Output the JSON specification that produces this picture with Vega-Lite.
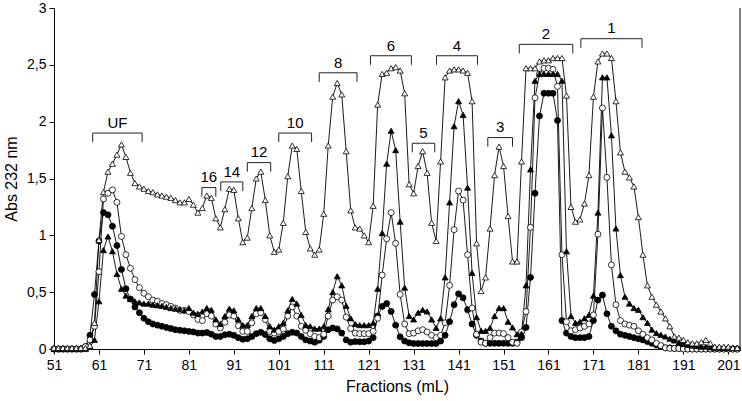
{
"$schema":"https://vega.github.io/schema/vega-lite/v6.json",
"width":686,"height":341,
"autosize":{"type":"none"},
"padding":{"left":54,"top":8,"right":2,"bottom":52},
"config":{"view":{"stroke":null},"font":"Liberation Sans",
"axis":{"domainColor":"black","tickColor":"black","labelColor":"black","titleColor":"black","grid":false,"labelFont":"Liberation Sans","titleFont":"Liberation Sans","titleFontWeight":"normal","tickSize":5,"domainWidth":1,"tickWidth":1,"labelFontSize":14,"titleFontSize":16}},
"datasets":{
"series":[
{"x":51,"OT":0.01,"FT":0,"OC":0,"FC":0},
{"x":52,"OT":0.01,"FT":0,"OC":0,"FC":0},
{"x":53,"OT":0.01,"FT":0,"OC":0,"FC":0},
{"x":54,"OT":0.01,"FT":0,"OC":0,"FC":0},
{"x":55,"OT":0.01,"FT":0,"OC":0,"FC":0},
{"x":56,"OT":0.01,"FT":0,"OC":0,"FC":0},
{"x":57,"OT":0.01,"FT":0,"OC":0,"FC":0},
{"x":58,"OT":0.01,"FT":0,"OC":0.02,"FC":0.02},
{"x":59,"OT":0.03,"FT":0.02,"OC":0.08,"FC":0.12},
{"x":60,"OT":0.23,"FT":0.08,"OC":0.2,"FC":0.48},
{"x":61,"OT":0.96,"FT":0.42,"OC":0.68,"FC":0.95},
{"x":62,"OT":1.38,"FT":0.87,"OC":1.32,"FC":1.2},
{"x":63,"OT":1.56,"FT":0.99,"OC":1.37,"FC":1.18},
{"x":64,"OT":1.63,"FT":0.86,"OC":1.4,"FC":1.08},
{"x":65,"OT":1.71,"FT":0.66,"OC":1.29,"FC":0.91},
{"x":66,"OT":1.8,"FT":0.53,"OC":0.99,"FC":0.7},
{"x":67,"OT":1.69,"FT":0.47,"OC":0.83,"FC":0.53},
{"x":68,"OT":1.55,"FT":0.44,"OC":0.71,"FC":0.44},
{"x":69,"OT":1.46,"FT":0.42,"OC":0.61,"FC":0.37},
{"x":70,"OT":1.43,"FT":0.41,"OC":0.54,"FC":0.32},
{"x":71,"OT":1.41,"FT":0.4,"OC":0.49,"FC":0.27},
{"x":72,"OT":1.39,"FT":0.4,"OC":0.46,"FC":0.24},
{"x":73,"OT":1.38,"FT":0.39,"OC":0.43,"FC":0.22},
{"x":74,"OT":1.36,"FT":0.385,"OC":0.42,"FC":0.21},
{"x":75,"OT":1.35,"FT":0.38,"OC":0.4,"FC":0.2},
{"x":76,"OT":1.34,"FT":0.37,"OC":0.39,"FC":0.19},
{"x":77,"OT":1.33,"FT":0.36,"OC":0.375,"FC":0.18},
{"x":78,"OT":1.31,"FT":0.355,"OC":0.36,"FC":0.17},
{"x":79,"OT":1.29,"FT":0.35,"OC":0.34,"FC":0.165},
{"x":80,"OT":1.29,"FT":0.34,"OC":0.34,"FC":0.16},
{"x":81,"OT":1.32,"FT":0.36,"OC":0.33,"FC":0.155},
{"x":82,"OT":1.27,"FT":0.32,"OC":0.3,"FC":0.15},
{"x":83,"OT":1.2,"FT":0.31,"OC":0.26,"FC":0.14},
{"x":84,"OT":1.24,"FT":0.33,"OC":0.25,"FC":0.14},
{"x":85,"OT":1.35,"FT":0.36,"OC":0.31,"FC":0.145},
{"x":86,"OT":1.33,"FT":0.345,"OC":0.29,"FC":0.13},
{"x":87,"OT":1.15,"FT":0.26,"OC":0.22,"FC":0.11},
{"x":88,"OT":1.07,"FT":0.22,"OC":0.185,"FC":0.11},
{"x":89,"OT":1.23,"FT":0.29,"OC":0.235,"FC":0.125},
{"x":90,"OT":1.41,"FT":0.355,"OC":0.3,"FC":0.13},
{"x":91,"OT":1.4,"FT":0.34,"OC":0.29,"FC":0.12},
{"x":92,"OT":1.15,"FT":0.26,"OC":0.205,"FC":0.1},
{"x":93,"OT":0.94,"FT":0.21,"OC":0.155,"FC":0.085},
{"x":94,"OT":0.98,"FT":0.21,"OC":0.155,"FC":0.09},
{"x":95,"OT":1.24,"FT":0.29,"OC":0.23,"FC":0.11},
{"x":96,"OT":1.5,"FT":0.36,"OC":0.31,"FC":0.135},
{"x":97,"OT":1.56,"FT":0.36,"OC":0.32,"FC":0.147},
{"x":98,"OT":1.31,"FT":0.29,"OC":0.26,"FC":0.127},
{"x":99,"OT":1.0,"FT":0.2,"OC":0.155,"FC":0.09},
{"x":100,"OT":0.855,"FT":0.17,"OC":0.14,"FC":0.075},
{"x":101,"OT":0.875,"FT":0.2,"OC":0.155,"FC":0.09},
{"x":102,"OT":1.11,"FT":0.23,"OC":0.175,"FC":0.11},
{"x":103,"OT":1.52,"FT":0.34,"OC":0.29,"FC":0.135},
{"x":104,"OT":1.79,"FT":0.44,"OC":0.37,"FC":0.147},
{"x":105,"OT":1.76,"FT":0.4,"OC":0.29,"FC":0.14},
{"x":106,"OT":1.39,"FT":0.3,"OC":0.2,"FC":0.11},
{"x":107,"OT":1.03,"FT":0.21,"OC":0.165,"FC":0.08},
{"x":108,"OT":0.885,"FT":0.2,"OC":0.135,"FC":0.07},
{"x":109,"OT":0.83,"FT":0.18,"OC":0.11,"FC":0.06},
{"x":110,"OT":0.875,"FT":0.18,"OC":0.1,"FC":0.077},
{"x":111,"OT":1.19,"FT":0.2,"OC":0.13,"FC":0.11},
{"x":112,"OT":1.79,"FT":0.35,"OC":0.29,"FC":0.17},
{"x":113,"OT":2.22,"FT":0.5,"OC":0.43,"FC":0.185},
{"x":114,"OT":2.34,"FT":0.64,"OC":0.46,"FC":0.177},
{"x":115,"OT":2.24,"FT":0.56,"OC":0.43,"FC":0.14},
{"x":116,"OT":1.74,"FT":0.38,"OC":0.28,"FC":0.08},
{"x":117,"OT":1.22,"FT":0.27,"OC":0.18,"FC":0.06},
{"x":118,"OT":1.07,"FT":0.22,"OC":0.14,"FC":0.065},
{"x":119,"OT":1.06,"FT":0.21,"OC":0.135,"FC":0.063},
{"x":120,"OT":1.0,"FT":0.21,"OC":0.135,"FC":0.063},
{"x":121,"OT":0.94,"FT":0.21,"OC":0.135,"FC":0.07},
{"x":122,"OT":1.26,"FT":0.23,"OC":0.155,"FC":0.1},
{"x":123,"OT":2.15,"FT":0.53,"OC":0.27,"FC":0.29},
{"x":124,"OT":2.42,"FT":1.02,"OC":0.65,"FC":0.375},
{"x":125,"OT":2.43,"FT":1.63,"OC":0.97,"FC":0.4},
{"x":126,"OT":2.47,"FT":1.92,"OC":1.2,"FC":0.33},
{"x":127,"OT":2.48,"FT":1.75,"OC":0.93,"FC":0.21},
{"x":128,"OT":2.45,"FT":1.12,"OC":0.48,"FC":0.107},
{"x":129,"OT":2.25,"FT":0.54,"OC":0.22,"FC":0.07},
{"x":130,"OT":1.45,"FT":0.29,"OC":0.135,"FC":0.054},
{"x":131,"OT":1.37,"FT":0.26,"OC":0.14,"FC":0.048},
{"x":132,"OT":1.61,"FT":0.32,"OC":0.16,"FC":0.048},
{"x":133,"OT":1.74,"FT":0.345,"OC":0.17,"FC":0.048},
{"x":134,"OT":1.55,"FT":0.33,"OC":0.15,"FC":0.048},
{"x":135,"OT":1.11,"FT":0.26,"OC":0.12,"FC":0.048},
{"x":136,"OT":0.95,"FT":0.185,"OC":0.1,"FC":0.048},
{"x":137,"OT":1.65,"FT":0.27,"OC":0.12,"FC":0.07},
{"x":138,"OT":2.39,"FT":0.63,"OC":0.23,"FC":0.12},
{"x":139,"OT":2.45,"FT":1.29,"OC":0.56,"FC":0.24},
{"x":140,"OT":2.46,"FT":1.96,"OC":1.05,"FC":0.39},
{"x":141,"OT":2.46,"FT":2.18,"OC":1.39,"FC":0.485},
{"x":142,"OT":2.45,"FT":2.06,"OC":1.31,"FC":0.45},
{"x":143,"OT":2.43,"FT":1.42,"OC":0.83,"FC":0.345},
{"x":144,"OT":2.18,"FT":0.67,"OC":0.36,"FC":0.22},
{"x":145,"OT":0.93,"FT":0.28,"OC":0.13,"FC":0.12},
{"x":146,"OT":0.51,"FT":0.16,"OC":0.06,"FC":0.07},
{"x":147,"OT":0.63,"FT":0.16,"OC":0.05,"FC":0.05},
{"x":148,"OT":1.06,"FT":0.185,"OC":0.1,"FC":0.05},
{"x":149,"OT":1.53,"FT":0.29,"OC":0.14,"FC":0.05},
{"x":150,"OT":1.78,"FT":0.36,"OC":0.14,"FC":0.05},
{"x":151,"OT":1.61,"FT":0.36,"OC":0.135,"FC":0.05},
{"x":152,"OT":1.17,"FT":0.24,"OC":0.1,"FC":0.05},
{"x":153,"OT":0.77,"FT":0.19,"OC":0.06,"FC":0.05},
{"x":154,"OT":0.77,"FT":0.13,"OC":0.05,"FC":0.06},
{"x":155,"OT":1.65,"FT":0.135,"OC":0.15,"FC":0.1},
{"x":156,"OT":2.47,"FT":0.56,"OC":0.33,"FC":0.19},
{"x":157,"OT":2.47,"FT":1.58,"OC":1.07,"FC":0.63},
{"x":158,"OT":2.47,"FT":2.36,"OC":2.21,"FC":1.37},
{"x":159,"OT":2.53,"FT":2.42,"OC":2.42,"FC":2.05},
{"x":160,"OT":2.54,"FT":2.42,"OC":2.47,"FC":2.25},
{"x":161,"OT":2.54,"FT":2.42,"OC":2.47,"FC":2.25},
{"x":162,"OT":2.56,"FT":2.42,"OC":2.46,"FC":2.25},
{"x":163,"OT":2.56,"FT":2.42,"OC":2.31,"FC":2.01},
{"x":164,"OT":2.56,"FT":2.36,"OC":0.83,"FC":0.25},
{"x":165,"OT":2.23,"FT":0.86,"OC":0.24,"FC":0.14},
{"x":166,"OT":1.25,"FT":0.29,"OC":0.16,"FC":0.11},
{"x":167,"OT":1.12,"FT":0.23,"OC":0.17,"FC":0.1},
{"x":168,"OT":1.14,"FT":0.24,"OC":0.185,"FC":0.1},
{"x":169,"OT":1.28,"FT":0.27,"OC":0.2,"FC":0.1},
{"x":170,"OT":1.53,"FT":0.3,"OC":0.22,"FC":0.11},
{"x":171,"OT":2.22,"FT":0.47,"OC":0.3,"FC":0.25},
{"x":172,"OT":2.53,"FT":1.2,"OC":1.01,"FC":0.43},
{"x":173,"OT":2.6,"FT":2.39,"OC":2.12,"FC":0.475},
{"x":174,"OT":2.6,"FT":2.39,"OC":1.51,"FC":0.31},
{"x":175,"OT":2.56,"FT":1.88,"OC":0.74,"FC":0.2},
{"x":176,"OT":2.18,"FT":1.06,"OC":0.39,"FC":0.16},
{"x":177,"OT":1.73,"FT":0.65,"OC":0.25,"FC":0.13},
{"x":178,"OT":1.56,"FT":0.46,"OC":0.22,"FC":0.12},
{"x":179,"OT":1.51,"FT":0.4,"OC":0.21,"FC":0.11},
{"x":180,"OT":1.43,"FT":0.36,"OC":0.2,"FC":0.1},
{"x":181,"OT":1.16,"FT":0.345,"OC":0.16,"FC":0.09},
{"x":182,"OT":0.83,"FT":0.28,"OC":0.13,"FC":0.08},
{"x":183,"OT":0.56,"FT":0.23,"OC":0.1,"FC":0.065},
{"x":184,"OT":0.46,"FT":0.17,"OC":0.08,"FC":0.05},
{"x":185,"OT":0.39,"FT":0.14,"OC":0.05,"FC":0.035},
{"x":186,"OT":0.33,"FT":0.125,"OC":0.03,"FC":0.02},
{"x":187,"OT":0.27,"FT":0.11,"OC":0.01,"FC":0.01},
{"x":188,"OT":0.2,"FT":0.09,"OC":0.005,"FC":0.01},
{"x":189,"OT":0.11,"FT":0.075,"OC":0.005,"FC":0.005},
{"x":190,"OT":0.1,"FT":0.055,"OC":0.005,"FC":0.005},
{"x":191,"OT":0.08,"FT":0.045,"OC":0,"FC":0.005},
{"x":192,"OT":0.06,"FT":0.035,"OC":0,"FC":0},
{"x":193,"OT":0.05,"FT":0.03,"OC":0,"FC":0},
{"x":194,"OT":0.05,"FT":0.025,"OC":0,"FC":0},
{"x":195,"OT":0.06,"FT":0.02,"OC":0,"FC":0},
{"x":196,"OT":0.08,"FT":0.02,"OC":0,"FC":0},
{"x":197,"OT":0.05,"FT":0.015,"OC":0,"FC":0},
{"x":198,"OT":0.02,"FT":0.01,"OC":0,"FC":0},
{"x":199,"OT":0.02,"FT":0.01,"OC":0,"FC":0},
{"x":200,"OT":0.02,"FT":0.01,"OC":0,"FC":0},
{"x":201,"OT":0.02,"FT":0.01,"OC":0,"FC":0},
{"x":202,"OT":0.01,"FT":0.01,"OC":0,"FC":0},
{"x":203,"OT":0.01,"FT":0.01,"OC":0,"FC":0}
],
"brackets":[
{"lab":"UF","a":59.6,"b":70.6,"y":1.9},
{"lab":"16","a":83.9,"b":87.0,"y":1.42},
{"lab":"14","a":88.1,"b":93.0,"y":1.47},
{"lab":"12","a":94.0,"b":99.2,"y":1.64},
{"lab":"10","a":101.0,"b":108.3,"y":1.9},
{"lab":"8","a":110.0,"b":118.4,"y":2.43},
{"lab":"6","a":121.4,"b":130.5,"y":2.58},
{"lab":"5","a":130.7,"b":135.7,"y":1.81},
{"lab":"4","a":136.1,"b":145.2,"y":2.58},
{"lab":"3","a":147.5,"b":153.0,"y":1.86},
{"lab":"2","a":154.5,"b":166.4,"y":2.68},
{"lab":"1","a":168.2,"b":181.8,"y":2.73}
]},
"layer":[
{"data":{"name":"series"},
 "transform":[{"fold":["FC","OC","FT","OT"],"as":["s","v"]}],
 "layer":[
  {"mark":{"type":"line","color":"black","strokeWidth":0.9},
   "encoding":{
    "x":{"field":"x","type":"quantitative","scale":{"domain":[51,203.6],"nice":false,"zero":false},
         "axis":{"title":"Fractions (mL)","values":[51,56,61,66,71,76,81,86,91,96,101,106,111,116,121,126,131,136,141,146,151,156,161,166,171,176,181,186,191,196,201],
                 "labelExpr":"(datum.value - 51) % 10 === 0 ? datum.label : ''","labelPadding":4,"titlePadding":6,"labelFlush":false,"labelOverlap":false}},
    "y":{"field":"v","type":"quantitative","scale":{"domain":[0,3],"nice":false},
         "axis":{"title":"Abs 232 nm","values":[0,0.5,1,1.5,2,2.5,3],"format":".1~f","labelExpr":"replace(datum.label, '.', ',')","labelPadding":3,"titlePadding":7,"labelFlush":false}},
    "detail":{"field":"s"}}},
  {"mark":{"type":"point","filled":true,"stroke":"black","strokeWidth":0.8,"opacity":1},
   "encoding":{
    "x":{"field":"x","type":"quantitative"},
    "y":{"field":"v","type":"quantitative"},
    "shape":{"field":"s","scale":{"domain":["OT","FT","OC","FC"],"range":["triangle-up","triangle-up","circle","circle"]},"legend":null},
    "fill":{"field":"s","scale":{"domain":["OT","FT","OC","FC"],"range":["white","black","white","black"]},"legend":null},
    "size":{"field":"s","scale":{"domain":["OT","FT","OC","FC"],"range":[36,36,24,24]},"legend":null}}}
 ]},
{"data":{"name":"brackets"},
 "transform":[{"calculate":"datum.y - 0.08","as":"yb"},{"calculate":"(datum.a + datum.b) / 2","as":"xm"},{"calculate":"datum.y + 0.09","as":"ly"}],
 "layer":[
  {"mark":{"type":"rule","color":"#222","strokeWidth":1},
   "encoding":{"x":{"field":"a","type":"quantitative"},"x2":{"field":"b"},"y":{"field":"y","type":"quantitative"}}},
  {"transform":[{"fold":["a","b"],"as":["k","xe"]}],
   "mark":{"type":"rule","color":"#222","strokeWidth":1},
   "encoding":{"x":{"field":"xe","type":"quantitative"},"y":{"field":"y","type":"quantitative"},"y2":{"field":"yb"}}},
  {"mark":{"type":"text","fontSize":15,"baseline":"middle","align":"center","font":"Liberation Sans"},
   "encoding":{"x":{"field":"xm","type":"quantitative"},"y":{"field":"ly","type":"quantitative"},"text":{"field":"lab"}}}
 ]},
{"data":{"values":[{}]},
 "mark":{"type":"rule","color":"black","strokeWidth":1},
 "encoding":{"x":{"datum":203.6,"type":"quantitative"}}}
]
}
